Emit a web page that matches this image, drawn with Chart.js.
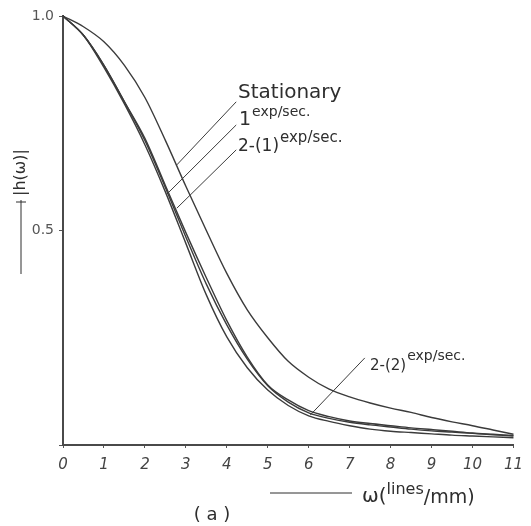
<!DOCTYPE html>
<html>
<head>
<meta charset="utf-8">
<script src="https://cdn.jsdelivr.net/npm/chart.js@4.4.1/dist/chart.umd.min.js"></script>
<style>
  html, body { margin: 0; padding: 0; background: #fff; }
  #wrap { width: 531px; height: 526px; position: relative; }
</style>
</head>
<body>
<div id="wrap"><canvas id="mtf"></canvas></div>
<script>
// spatial frequency, lines/mm
const omega = [0, 0.5, 1, 1.5, 2, 2.5, 3, 3.5, 4, 4.5, 5, 5.5, 6, 6.5, 7, 7.5, 8, 8.5, 9, 9.5, 10, 10.5, 11];

const stationary = [1.0, 0.975, 0.94, 0.885, 0.81, 0.71, 0.603, 0.50, 0.40, 0.315, 0.25, 0.195, 0.158, 0.13, 0.112, 0.098, 0.086, 0.076, 0.064, 0.054, 0.045, 0.035, 0.025];
const oneExp = [1.0, 0.955, 0.885, 0.80, 0.715, 0.605, 0.495, 0.39, 0.29, 0.205, 0.14, 0.105, 0.08, 0.066, 0.056, 0.05, 0.045, 0.04, 0.036, 0.032, 0.028, 0.025, 0.022];
const twoOneExp = [1.0, 0.955, 0.885, 0.80, 0.71, 0.60, 0.485, 0.375, 0.28, 0.20, 0.138, 0.10, 0.075, 0.062, 0.053, 0.047, 0.042, 0.037, 0.033, 0.03, 0.027, 0.024, 0.021];
const twoTwoExp = [1.0, 0.955, 0.88, 0.795, 0.70, 0.59, 0.47, 0.35, 0.252, 0.18, 0.128, 0.092, 0.068, 0.055, 0.045, 0.037, 0.032, 0.029, 0.026, 0.023, 0.021, 0.019, 0.017];

const xTicks = [0, 1, 2, 3, 4, 5, 6, 7, 8, 9, 10, 11];
const yTickLabels = { 0.5: '0.5', 1: '1.0' };

// leader lines from the labels to the curves: [x0, y0, x1, y1] in data units
const leaders = [
  [4.23, 0.80, 2.78, 0.653],
  [4.23, 0.746, 2.54, 0.585],
  [4.23, 0.688, 2.78, 0.552],
  [7.37, 0.203, 6.04, 0.07]
];

const ink = '#3b3b3b';

function toPoints(ys) {
  return ys.map((y, i) => ({ x: omega[i], y: y }));
}

function curve(ys) {
  return {
    data: toPoints(ys),
    borderColor: ink,
    borderWidth: 1.4,
    pointRadius: 0,
    tension: 0.4,
    cubicInterpolationMode: 'monotone',
    clip: false
  };
}

const leaderSets = leaders.map(l => ({
  data: [{ x: l[0], y: l[1] }, { x: l[2], y: l[3] }],
  borderColor: ink,
  borderWidth: 1,
  pointRadius: 0,
  tension: 0
}));

// label text with a raised "exp/sec." part
function labelWithSup(ctx, main, sup, x, y, mainSize, supSize, rise) {
  ctx.font = mainSize + 'px "DejaVu Sans"';
  ctx.fillText(main, x, y);
  const w = ctx.measureText(main).width;
  ctx.font = supSize + 'px "DejaVu Sans"';
  ctx.fillText(sup, x + w + 1, y - rise);
}

const annotations = {
  id: 'annotations',
  afterDraw(chart) {
    const ctx = chart.ctx;
    ctx.save();
    ctx.fillStyle = '#2e2e2e';
    ctx.strokeStyle = '#2e2e2e';
    ctx.textBaseline = 'alphabetic';
    ctx.textAlign = 'left';

    ctx.font = '20px "DejaVu Sans"';
    ctx.fillText('Stationary', 238, 98);
    labelWithSup(ctx, '1', 'exp/sec.', 239, 125, 19, 14, 9);
    labelWithSup(ctx, '2-(1)', 'exp/sec.', 238, 151, 17, 15, 9);
    labelWithSup(ctx, '2-(2)', 'exp/sec.', 370, 370, 15, 14, 10);

    // y axis title: arrow shaft, then rotated text
    ctx.lineWidth = 1;
    ctx.beginPath();
    ctx.moveTo(21, 274);
    ctx.lineTo(21, 200);
    ctx.moveTo(16, 202);
    ctx.lineTo(26, 202);
    ctx.stroke();
    ctx.save();
    ctx.translate(25, 196);
    ctx.rotate(-Math.PI / 2);
    ctx.font = '16px "DejaVu Sans"';
    ctx.fillText('|h(ω)|', 0, 0);
    ctx.restore();

    // x axis title
    ctx.beginPath();
    ctx.moveTo(270, 493);
    ctx.lineTo(352, 493);
    ctx.stroke();
    ctx.font = '20px "DejaVu Sans"';
    ctx.fillText('ω(', 362, 502);
    let x = 362 + ctx.measureText('ω(').width;
    ctx.font = '16px "DejaVu Sans"';
    ctx.fillText('lines', x, 494);
    x += ctx.measureText('lines').width;
    ctx.font = '19px "DejaVu Sans"';
    ctx.fillText('/mm)', x, 503);

    ctx.font = '18px "DejaVu Sans"';
    ctx.textAlign = 'center';
    ctx.fillText('( a )', 212, 520);
    ctx.restore();
  }
};

new Chart(document.getElementById('mtf'), {
  type: 'line',
  data: {
    datasets: [
      curve(stationary),
      curve(oneExp),
      curve(twoOneExp),
      curve(twoTwoExp)
    ].concat(leaderSets)
  },
  options: {
    responsive: true,
    maintainAspectRatio: false,
    animation: false,
    devicePixelRatio: 1,
    layout: { padding: { top: 16, right: 13, left: 0, bottom: 0 } },
    plugins: {
      legend: { display: false },
      tooltip: { enabled: false }
    },
    scales: {
      x: {
        type: 'linear',
        min: 0,
        max: 11,
        afterFit(scale) { scale.height = 81; },
        afterBuildTicks(scale) { scale.ticks = xTicks.map(v => ({ value: v })); },
        border: { display: true, color: '#4a4a4a', width: 2 },
        grid: { display: true, drawOnChartArea: false, tickLength: 3, color: '#555' },
        ticks: {
          color: '#444',
          padding: 8,
          maxRotation: 0,
          font: { family: 'DejaVu Sans', size: 15, style: 'italic' },
          callback: v => String(v)
        }
      },
      y: {
        type: 'linear',
        min: 0,
        max: 1,
        afterFit(scale) { scale.width = 63; },
        afterBuildTicks(scale) { scale.ticks = [0, 0.5, 1].map(v => ({ value: v })); },
        border: { display: true, color: '#4a4a4a', width: 2 },
        grid: { display: true, drawOnChartArea: false, tickLength: 4, color: '#555' },
        ticks: {
          color: '#555',
          padding: 5,
          font: { family: 'DejaVu Sans', size: 14 },
          callback: v => yTickLabels[v] || ''
        }
      }
    }
  },
  plugins: [annotations]
});
</script>
</body>
</html>
